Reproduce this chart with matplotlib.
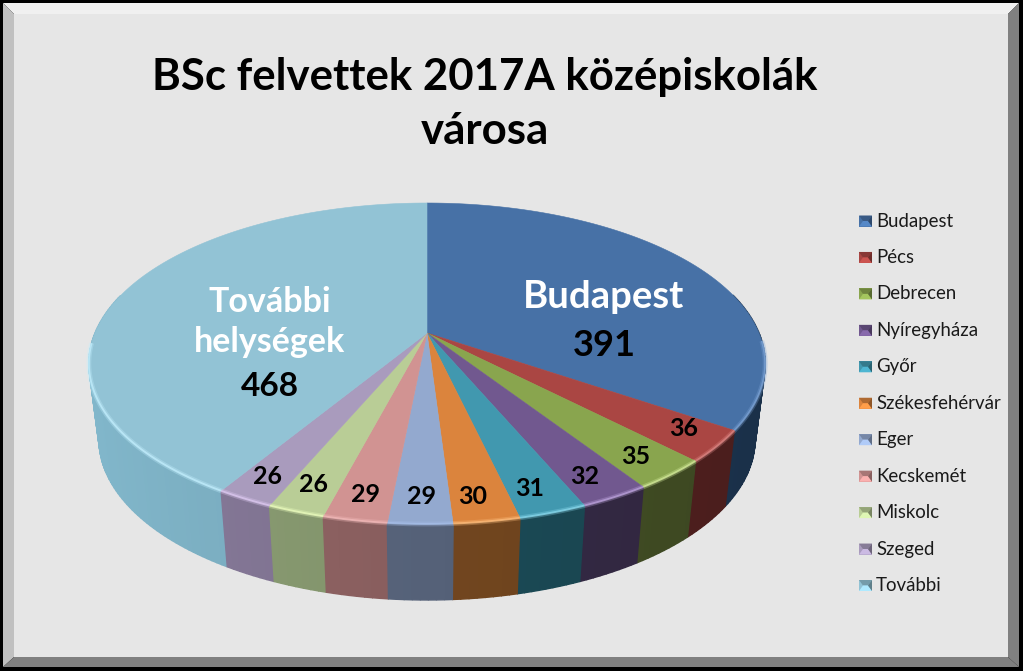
import numpy as np
import matplotlib
matplotlib.use('Agg')
import matplotlib.pyplot as plt
from matplotlib.patches import Polygon, Rectangle
from matplotlib.colors import to_rgb

plt.rcParams['font.family'] = ['Lato', 'DejaVu Sans']

# data
title = 'BSc felvettek 2017A középiskolák\nvárosa'
cities = ['Budapest', 'Pécs', 'Debrecen', 'Nyíregyháza', 'Győr', 'Székesfehérvár',
          'Eger', 'Kecskemét', 'Miskolc', 'Szeged', 'További']
values = [391, 36, 35, 32, 31, 30, 29, 29, 26, 26, 468]

top_colors = ['#4771a6', '#aa4643', '#89a54e', '#71588f', '#4198af', '#db843d',
              '#93a9cf', '#d19392', '#b9cd96', '#a99bbd', '#92c3d5']
wall_colors = ['#1d3652', '#532120', '#434f25', '#352a45', '#1b4a56', '#72461f',
               '#556178', '#875d5d', '#80916a', '#7b6f8c', '#74a4b6']
rim_colors = ['#7fa6d8', '#e08a88', '#d8ee9e', '#c0a6e0', '#8ddcf0', '#ffc080',
              '#a8c0ea', '#f4bcbc', '#eeffc0', '#e0ccf4', '#c4f0ff']
label_pos = [(604, 345), (684, 429), (636, 456), (585, 476), (530, 488), (473, 497),
             (421, 497), (366, 494), (313, 485), (268, 476), (270, 386)]

# pie geometry in pixels, the disc is seen in perspective
CX, CY = 427, 333
RX, RY, K = 332, 154.7, 0.19
DEPTH, SHRINK = 76, 0.97


def project(theta, sx=1.0, dy=0.0):
    u, v = np.sin(theta), -np.cos(theta)
    w = 1 - K * v
    return CX + sx * RX * u / w, CY + dy + RY * v / w


def shade(color, f):
    return tuple(min(1, c * f) for c in to_rgb(color))


fig = plt.figure(figsize=(10.23, 6.71), dpi=100, facecolor='black')
ax = fig.add_axes([0, 0, 1, 1])
ax.set_xlim(0, 1023)
ax.set_ylim(671, 0)
ax.axis('off')

# bevelled frame
ax.add_patch(Polygon([(3, 3), (1019, 3), (1008, 14), (14, 14)], fc='#f0f0f0', ec='none'))
ax.add_patch(Polygon([(3, 3), (14, 14), (14, 657), (3, 667)], fc='#c0c0c0', ec='none'))
ax.add_patch(Polygon([(1019, 3), (1019, 667), (1008, 657), (1008, 14)], fc='#808080', ec='none'))
ax.add_patch(Polygon([(3, 667), (14, 657), (1008, 657), (1019, 667)], fc='#808080', ec='none'))
ax.add_patch(Rectangle((14, 14), 994, 643, fc='#e6e6e6', ec='none'))

angles = np.cumsum([0] + values) / sum(values) * 2 * np.pi

# side wall, back to front so the front strips stay on top
strips = []
for i, col in enumerate(wall_colors):
    ts = np.linspace(angles[i], angles[i + 1], max(4, int((angles[i + 1] - angles[i]) * 60)))
    for t0, t1 in zip(ts[:-1], ts[1:]):
        tm = (t0 + t1) / 2
        if -np.cos(tm) > -0.25:
            strips.append((-np.cos(tm), t0, t1, col))
for _, t0, t1, col in sorted(strips, key=lambda s: s[0]):
    f = 1 + 0.12 * -np.sin((t0 + t1) / 2)
    xa, ya = project(np.array([t0, t1]))
    xb, yb = project(np.array([t1, t0]), SHRINK, DEPTH)
    ax.add_patch(Polygon(list(zip(xa, ya)) + list(zip(xb, yb)), fc=shade(col, f), ec=shade(col, f), lw=1.0))

# top face
for i, col in enumerate(top_colors):
    ts = np.linspace(angles[i], angles[i + 1], 120)
    x, y = project(ts)
    ax.add_patch(Polygon([(CX, CY)] + list(zip(x, y)), fc=col, ec=col, lw=0.4))

# bright rim along the front edge
for i, col in enumerate(rim_colors):
    ts = np.linspace(angles[i], angles[i + 1], 120)
    ts = ts[-np.cos(ts) > 0.05]
    if len(ts) < 2:
        continue
    x, y = project(ts)
    ax.plot(x, y, color=col, lw=3.5, alpha=0.3, solid_capstyle='butt')
    ax.plot(x, y, color=col, lw=1.4, alpha=0.7, solid_capstyle='butt')

ax.text(485, 104, title, ha='center', va='center', fontsize=31.5, fontweight='bold',
        color='black', linespacing=1.45)

# data labels
for i, (v, (lx, ly)) in enumerate(zip(values, label_pos)):
    big = i in (0, len(values) - 1)
    size = 26 if i == 0 else 24 if big else 18
    ax.text(lx, ly, str(v), ha='center', va='center', fontweight='bold', color='black', fontsize=size)
ax.text(604, 297, cities[0], ha='center', va='center', fontsize=27.5, fontweight='bold', color='white')
ax.text(270, 322, 'További\nhelységek', ha='center', va='center', fontsize=24.5, fontweight='bold',
        color='white', linespacing=1.32)

# legend
for i, (name, col) in enumerate(zip(cities, top_colors)):
    ly = 221 + i * 36.45
    x0, x1, y0, y1 = 859, 872, ly - 5.5, ly + 5.5
    ax.add_patch(Rectangle((x0, y0), x1 - x0, y1 - y0, fc=col, ec='none'))
    ax.add_patch(Polygon([(x0, y0), (x1, y0), (x1 - 4, ly), (x0 + 4, ly)], fc=shade(col, 0.8), ec='none'))
    ax.add_patch(Polygon([(x0, y1), (x1, y1), (x1 - 4, ly), (x0 + 4, ly)], fc=shade(col, 1.2), ec='none'))
    ax.add_patch(Polygon([(x1, y0), (x1, y1), (x1 - 4, ly)], fc=shade(col, 0.65), ec='none'))
    ax.text(876, ly, name, ha='left', va='center', fontsize=13.4, color='#1a1a1a')

fig.savefig('out.png', dpi=100, facecolor=fig.get_facecolor())
